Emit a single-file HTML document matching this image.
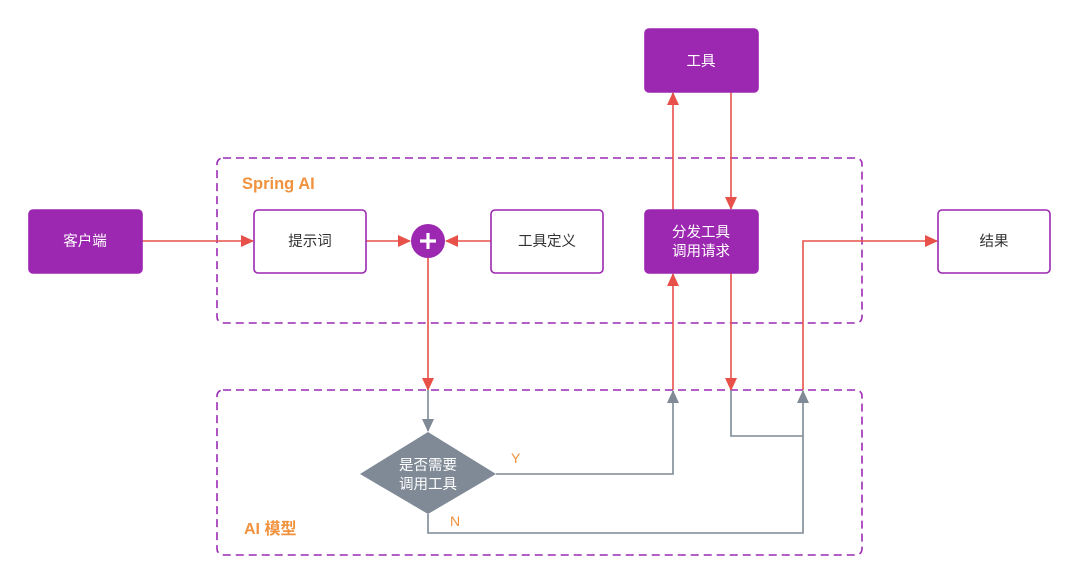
<!DOCTYPE html>
<html><head><meta charset="utf-8"><style>
body{margin:0;background:#fff}
svg{display:block}
text{font-family:"Liberation Sans","Noto Sans CJK SC",sans-serif}
</style></head><body>
<svg width="1080" height="585" viewBox="0 0 1080 585">
<defs>
<marker id="g" markerWidth="14" markerHeight="14" refX="12" refY="6" orient="auto" markerUnits="userSpaceOnUse"><path d="M0,0 L13,6 L0,12 z" fill="#7f8a96"/></marker>
<marker id="rr" markerWidth="14" markerHeight="14" refX="12" refY="6" orient="auto" markerUnits="userSpaceOnUse"><path d="M0,0 L13,6 L0,12 z" fill="#e8504a"/></marker>
</defs>
<rect x="217" y="158" width="645" height="165" rx="6" fill="none" stroke="#9c2ab5" stroke-width="1.6" stroke-dasharray="8,5"/>
<rect x="217" y="390" width="645" height="165" rx="6" fill="none" stroke="#9c2ab5" stroke-width="1.6" stroke-dasharray="8,5"/>
<text x="242" y="189" font-size="16.5" font-weight="bold" fill="#f0923e">Spring AI</text>
<text x="244" y="534" font-size="16" font-weight="bold" fill="#f0923e">AI 模型</text>
<g stroke="#e8504a" stroke-width="1.6" fill="none">
<line x1="142" y1="241" x2="253" y2="241" marker-end="url(#rr)"/>
<line x1="366" y1="241" x2="410" y2="241" marker-end="url(#rr)"/>
<line x1="491" y1="241" x2="446" y2="241" marker-end="url(#rr)"/>
<line x1="428" y1="258" x2="428" y2="390" marker-end="url(#rr)"/>
<line x1="673" y1="390" x2="673" y2="274" marker-end="url(#rr)"/>
<line x1="673" y1="210" x2="673" y2="93" marker-end="url(#rr)"/>
<line x1="731" y1="92" x2="731" y2="209" marker-end="url(#rr)"/>
<line x1="731" y1="273" x2="731" y2="390" marker-end="url(#rr)"/>
<polyline points="803,390 803,241 937,241" marker-end="url(#rr)"/>
</g>
<g stroke="#7f8a96" stroke-width="1.6" fill="none">
<line x1="428" y1="390" x2="428" y2="431" marker-end="url(#g)"/>
<polyline points="496,474 673,474 673,391" marker-end="url(#g)"/>
<polyline points="731,390 731,436 803,436"/>
<polyline points="428,514 428,533 803,533 803,391" marker-end="url(#g)"/>
</g>
<g fill="#9c27b0" stroke="#9c27b0" stroke-width="1.6">
<rect x="29" y="210" width="113" height="63" rx="4"/>
<rect x="645" y="29" width="113" height="63" rx="4"/>
<rect x="645" y="210" width="113" height="63" rx="4"/>
</g>
<g fill="#fff" stroke="#9c27b0" stroke-width="1.6">
<rect x="254" y="210" width="112" height="63" rx="4"/>
<rect x="491" y="210" width="112" height="63" rx="4"/>
<rect x="938" y="210" width="112" height="63" rx="4"/>
</g>
<circle cx="428" cy="241" r="17" fill="#9c27b0"/>
<path d="M428,233 V249 M420,241 H436" stroke="#fff" stroke-width="3.2"/>
<polygon points="428,432 496,474 428,514 360,474" fill="#7f8a96"/>
<g font-size="14.5" text-anchor="middle">
<text x="85" y="246" fill="#fff">客户端</text>
<text x="701" y="66" fill="#fff">工具</text>
<text x="701" y="237" fill="#fff">分发工具</text>
<text x="701" y="256" fill="#fff">调用请求</text>
<text x="310" y="246" fill="#333">提示词</text>
<text x="547" y="246" fill="#333">工具定义</text>
<text x="994" y="246" fill="#333">结果</text>
<text x="428" y="470" fill="#fff">是否需要</text>
<text x="428" y="489" fill="#fff">调用工具</text>
</g>
<text x="511" y="463" font-size="14" fill="#f0923e">Y</text>
<text x="450" y="526" font-size="14" fill="#f0923e">N</text>
</svg>
</body></html>
